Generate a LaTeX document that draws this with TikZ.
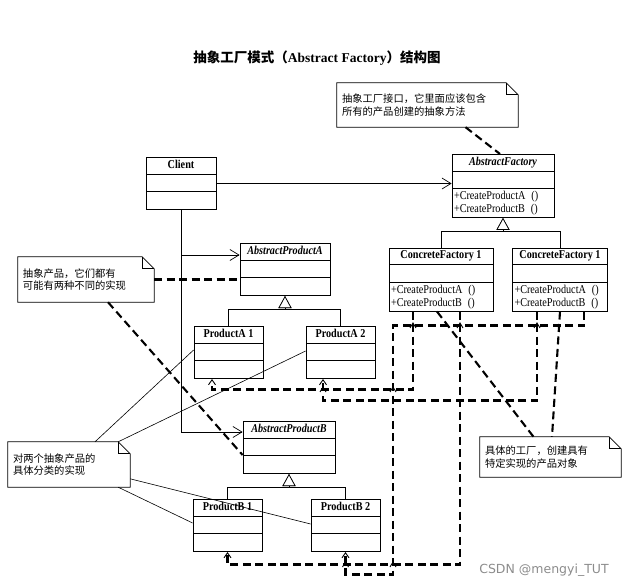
\documentclass[tikz,border=0pt]{standalone}
\usepackage{fontspec}
\setmainfont{Liberation Serif}
\newfontfamily\umlfont[FakeStretch=0.85]{Liberation Serif}
\newfontfamily\cjk{Noto Sans CJK SC}
\newfontfamily\wmfont{DejaVu Sans}
\usetikzlibrary{arrows.meta,shapes.multipart}
\newcommand\clsname[1]{\rule[-3.5pt]{0pt}{9.5pt}#1}

\begin{document}
\begin{tikzpicture}[
        x=1pt, y=-1pt,
        cls/.style={rectangle split, rectangle split parts=3, draw, line width=0.8pt, fill=white,
            anchor=north, inner xsep=2pt, inner ysep=2pt, align=left,
            rectangle split part align={center,left,left},
            rectangle split empty part height=13pt, rectangle split empty part depth=0pt,
            font=\umlfont\fontsize{12}{13}\selectfont},
        note/.style={align=left, inner xsep=5pt, inner ysep=0pt, font=\cjk\fontsize{10.3}{12.5}\selectfont},
        assoc/.style={-{Straight Barb[length=9pt,width=11pt]}, line width=0.7pt},
        gen/.style={-{Triangle[fill=white,length=12pt,width=13pt]}, line width=0.7pt},
        dep/.style={-{Straight Barb[length=5pt,width=7pt,line width=0.9pt]}, line width=2.1pt, dash pattern=on 8pt off 4.5pt},
        link/.style={line width=2.1pt, dash pattern=on 8pt off 4.5pt},
        impl/.style={line width=0.6pt},
        caret/.pic={\draw[line width=0.9pt] (-3,5) -- (0,0) -- (3,5);}
    ]
        \useasboundingbox (0,0) rectangle (632,588);

        \node[font=\fontsize{13.5}{16}\selectfont\bfseries] (title) at (317,58) {{\cjk 抽象工厂模式（}Abstract Factory{\cjk ）结构图}};

        \node[cls, minimum width=70pt]  (client) at (181,157) {\clsname{\bfseries Client}\nodepart{two}\nodepart{three}};
        \node[cls, minimum width=102pt] (af)  at (503,154) {\clsname{\bfseries\itshape AbstractFactory}\nodepart{two}\nodepart{three}+CreateProductA\enspace()\\+CreateProductB\enspace()};
        \node[cls, minimum width=104pt] (cf1) at (441,248) {\clsname{\bfseries ConcreteFactory 1}\nodepart{two}\nodepart{three}+CreateProductA\enspace()\\+CreateProductB\enspace()};
        \node[cls, minimum width=95pt]  (cf2) at (560,248) {\clsname{\bfseries ConcreteFactory 1}\nodepart{two}\nodepart{three}+CreateProductA\enspace()\\+CreateProductB\enspace()};
        \node[cls, minimum width=90pt]  (apa) at (285,243) {\clsname{\bfseries\itshape AbstractProductA}\nodepart{two}\nodepart{three}};
        \node[cls, minimum width=69pt]  (pa1) at (228.5,326) {\clsname{\bfseries ProductA 1}\nodepart{two}\nodepart{three}};
        \node[cls, minimum width=69pt]  (pa2) at (340.5,326) {\clsname{\bfseries ProductA 2}\nodepart{two}\nodepart{three}};
        \node[cls, minimum width=92pt]  (apb) at (289,421) {\clsname{\bfseries\itshape AbstractProductB}\nodepart{two}\nodepart{three}};
        \node[cls, minimum width=69pt]  (pb1) at (227.5,499) {\clsname{\bfseries ProductB 1}\nodepart{two}\nodepart{three}};
        \node[cls, minimum width=69pt]  (pb2) at (345.5,499) {\clsname{\bfseries ProductB 2}\nodepart{two}\nodepart{three}};

        \node[note, text width=171pt, minimum height=44pt] (nf) at (427.5,105) {抽象工厂接口，它里面应该包含\\所有的产品创建的抽象方法};
        \node[note, text width=126pt, minimum height=45pt] (na) at (86,279.5) {抽象产品，它们都有\\可能有两种不同的实现};
        \node[note, text width=131pt, minimum height=40pt] (nc) at (550.5,457) {具体的工厂，创建具有\\特定实现的产品对象};
        \node[note, text width=112pt, minimum height=45pt] (nb) at (69,464.5) {对两个抽象产品的\\具体分类的实现};
        \foreach \n in {nf,na,nc,nb} {
            \draw[line width=0.7pt] (\n.north west) -- ([xshift=-12pt]\n.north east) -- ([yshift=-12pt]\n.north east) -- (\n.south east) -- (\n.south west) -- cycle;
            \draw[line width=0.7pt] ([xshift=-12pt]\n.north east) |- ([yshift=-12pt]\n.north east);
        }

        \node[font=\wmfont\fontsize{12.5}{14}\selectfont, text=black!45] (mark) at (544,570) {CSDN @mengyi\_TUT};

        \draw[assoc] (client.east) -- (client.east -| af.west);
        \draw[assoc] (client.south) |- ([yshift=-12pt]apa.north west);
        \draw[assoc] (client.south) |- ([yshift=-11pt]apb.north west);

        \draw[gen] (cf1.north) |- ([yshift=-13pt]af.south) -- (af.south);
        \draw[gen] (cf2.north) |- ([yshift=-13pt]af.south) -- (af.south);
        \draw[gen] (pa1.north) |- ([yshift=-13pt]apa.south) -- (apa.south);
        \draw[gen] (pa2.north) |- ([yshift=-13pt]apa.south) -- (apa.south);
        \draw[gen] (pb1.north) |- ([yshift=-13pt]apb.south) -- (apb.south);
        \draw[gen] (pb2.north) |- ([yshift=-13pt]apb.south) -- (apb.south);

        \draw[dep] ([xshift=-28pt]cf1.south) -- ++(0,78) -| ([xshift=-16.5pt]pa1.south);
        \draw[dep] ([xshift=-23pt]cf2.south) -- ++(0,89) -| ([xshift=-17.5pt]pa2.south);
        \draw[dep] ([xshift=19pt]cf1.south) -- ++(0,253) -| (pb1.south);
        \draw[dep] ([xshift=24pt]cf2.south) -- ++(0,14) -| ++(-191,249) -| (pb2.south);
        \foreach \cx/\cy in {413/323, 460/323, 537/323, 393/387, 323/387, 393/562, 345.5/562}
            \pic at (\cx,\cy) {caret};

        \draw[link] ([xshift=38pt]nf.south) -- ([xshift=-3pt]af.north);
        \draw[link] (na.east) -- (na.east -| apa.west);
        \draw[link] ([xshift=22pt]na.south) -- ([yshift=-34pt]apb.north west);
        \draw[link] ([xshift=-4pt]cf1.south) -- ([xshift=-17pt]nc.north);
        \draw[link] (cf2.south) -- ([xshift=1.5pt]nc.north);

        \draw[impl] ([xshift=26pt]nb.north) -- ([yshift=-24pt]pa1.north west);
        \draw[impl] ([xshift=-12pt]nb.north east) -- ([yshift=-25pt]pa2.north west);
        \draw[impl] ([yshift=-37pt]nb.north east) -- ([yshift=-25pt]pb2.north west);
        \draw[impl] ([xshift=-12pt]nb.south east) -- ([yshift=-24pt]pb1.north west);
    \end{tikzpicture}
\end{document}
